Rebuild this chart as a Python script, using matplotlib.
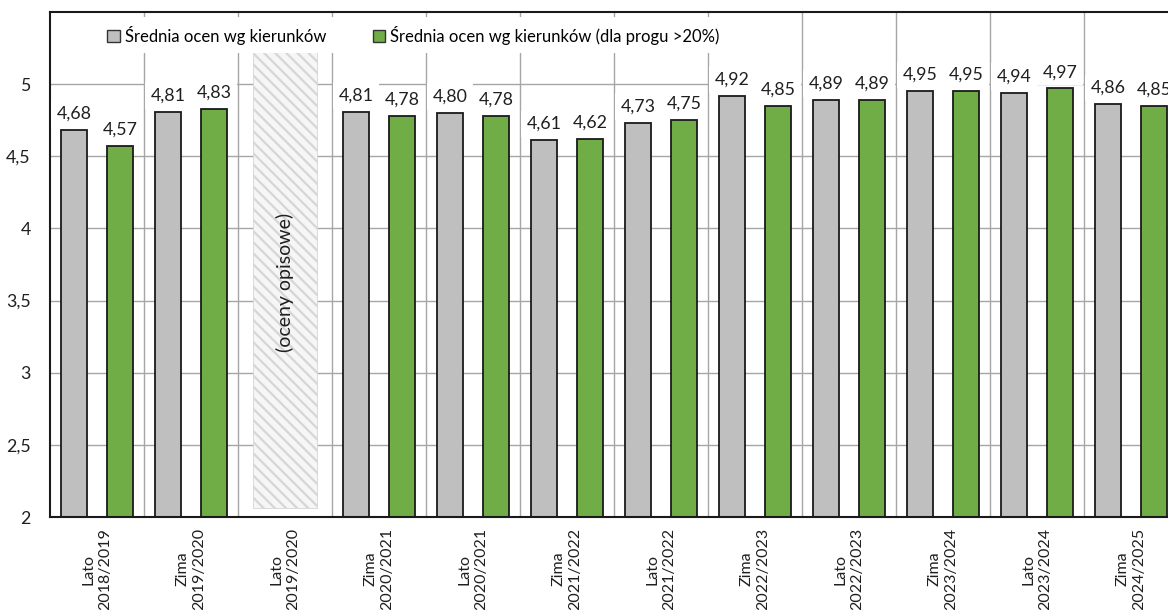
#Bar chart of average grades per semester (two series) with a hatched placeholder
import numpy as np
import matplotlib.pyplot as plt
import matplotlib
from matplotlib.patches import Patch

matplotlib.rcParams['font.family'] = ['Lato', 'DejaVu Sans']
matplotlib.rcParams['hatch.linewidth'] = 1.6

semesters = ['Lato\n2018/2019', 'Zima\n2019/2020', 'Lato\n2019/2020', 'Zima\n2020/2021',
             'Lato\n2020/2021', 'Zima\n2021/2022', 'Lato\n2021/2022', 'Zima\n2022/2023',
             'Lato\n2022/2023', 'Zima\n2023/2024', 'Lato\n2023/2024', 'Zima\n2024/2025']
avg_all = [4.68, 4.81, np.nan, 4.81, 4.80, 4.61, 4.73, 4.92, 4.89, 4.95, 4.94, 4.86]
avg_thr = [4.57, 4.83, np.nan, 4.78, 4.78, 4.62, 4.75, 4.85, 4.89, 4.95, 4.97, 4.85]
series_names = ['Średnia ocen wg kierunków', 'Średnia ocen wg kierunków (dla progu >20%)']
yticks = [2, 2.5, 3, 3.5, 4, 4.5, 5]
ytick_labels = ['2', '2,5', '3', '3,5', '4', '4,5', '5']
gap_idx = 2
gap_text = '(oceny opisowe)'

c_gray = '#bfbfbf'
c_green = '#70ad47'
c_grid = '#a6a6a6'
c_text = '#1f1f1f'

fig = plt.figure(figsize=(11.68, 6.10), dpi=100)
ax = fig.add_axes([50/1168, 93/610, 1128/1168, 505/610])

x = np.arange(len(semesters))
off = 0.245
w = 0.28

# separators between semesters and horizontal grid
for k in range(len(semesters) - 1):
    ax.axvline(k + 0.5, color=c_grid, lw=1, zorder=0)
for yv in yticks[1:]:
    ax.axhline(yv, color=c_grid, lw=1, zorder=0)

ax.bar(x - off, np.nan_to_num(np.array(avg_all) - 2), bottom=2, width=w, color=c_gray,
       edgecolor='#1a1a1a', lw=1.3, zorder=2)
ax.bar(x + off, np.nan_to_num(np.array(avg_thr) - 2), bottom=2, width=w, color=c_green,
       edgecolor='#1a1a1a', lw=1.3, zorder=2)

# placeholder for the semester with descriptive grades
ax.bar(gap_idx, 3.16, bottom=2.06, width=0.69, facecolor='#f6f6f6', edgecolor='#d6d6d6',
       hatch='\\\\\\', lw=0.6, zorder=2)
ax.text(gap_idx, 3.625, gap_text, rotation=90, ha='center', va='center', fontsize=14,
        color=c_text, zorder=3)

for xs, vals in [(x - off, avg_all), (x + off, avg_thr)]:
    for xi, v in zip(xs, vals):
        if np.isnan(v):
            continue
        ax.annotate('{:.2f}'.format(v).replace('.', ','), (xi, v), xytext=(0, 6),
                    textcoords='offset points', ha='center', va='bottom', fontsize=12.8,
                    color=c_text, zorder=4,
                    bbox=dict(boxstyle='square,pad=0.3', fc='white', ec='none'))

ax.set_xlim(-0.5, len(semesters) - 0.5)
ax.set_ylim(2, 5.5)
ax.set_yticks(yticks)
ax.set_yticklabels(ytick_labels)
ax.set_xticks(x)
ax.set_xticklabels(semesters, rotation=90, ha='center', va='top', multialignment='center')
ax.tick_params(axis='both', length=0, colors=c_text)
ax.tick_params(axis='y', pad=14, labelsize=12.8)
ax.tick_params(axis='x', pad=8, labelsize=11.5)
for s in ax.spines.values():
    s.set_color('#1a1a1a')
    s.set_linewidth(1.5)

handles = [Patch(facecolor=c_gray, edgecolor='#333333', lw=1),
           Patch(facecolor=c_green, edgecolor='#333333', lw=1)]
leg = ax.legend(handles, series_names, ncol=2, loc='center', bbox_to_anchor=(0.322, 0.954),
                fontsize=12, frameon=True, fancybox=False, framealpha=1, edgecolor='none',
                facecolor='white', handlelength=0.75, handleheight=0.75, handletextpad=0.3,
                columnspacing=2.8, borderpad=0.5)
leg.set_zorder(5)

plt.savefig('out.png', dpi=100)
